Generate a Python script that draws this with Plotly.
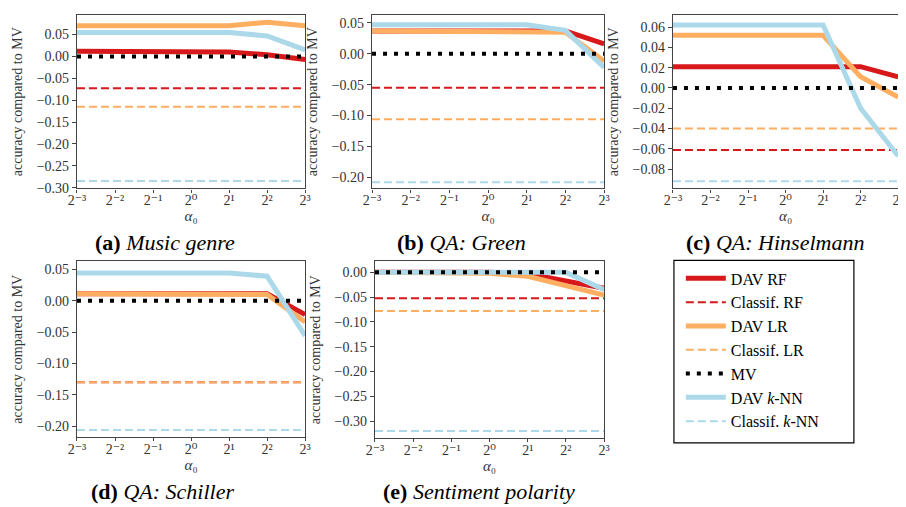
import plotly.graph_objects as go

alpha = [0.125, 0.25, 0.5, 1, 2, 4, 8]
alpha_ticks = ["2⁻³", "2⁻²", "2⁻¹", "2⁰", "2¹", "2²", "2³"]

# (a) Music genre
a_dav_rf = [0.012, 0.012, 0.012, 0.012, 0.010, 0.004, -0.007]
a_dav_lr = [0.070, 0.070, 0.070, 0.070, 0.070, 0.078, 0.070]
a_dav_knn = [0.055, 0.055, 0.055, 0.055, 0.055, 0.047, 0.015]
a_cls = {"rf": -0.073, "lr": -0.115, "knn": -0.285}
# (b) QA: Green
b_dav_rf = [0.037, 0.037, 0.037, 0.037, 0.037, 0.037, 0.016]
b_dav_lr = [0.037, 0.037, 0.037, 0.037, 0.037, 0.035, -0.012]
b_dav_knn = [0.047, 0.047, 0.047, 0.047, 0.047, 0.038, -0.022]
b_cls = {"rf": -0.055, "lr": -0.106, "knn": -0.208}
# (c) QA: Hinselmann
c_dav_rf = [0.021, 0.021, 0.021, 0.021, 0.021, 0.021, 0.011]
c_dav_lr = [0.052, 0.052, 0.052, 0.052, 0.052, 0.011, -0.009]
c_dav_knn = [0.062, 0.062, 0.062, 0.062, 0.062, -0.020, -0.067]
c_cls = {"rf": -0.061, "lr": -0.040, "knn": -0.092}
# (d) QA: Schiller
d_dav_rf = [0.011, 0.011, 0.011, 0.011, 0.011, 0.011, -0.022]
d_dav_lr = [0.011, 0.011, 0.011, 0.011, 0.011, 0.010, -0.034]
d_dav_knn = [0.044, 0.044, 0.044, 0.044, 0.044, 0.039, -0.056]
d_cls = {"rf": -0.130, "lr": -0.130, "knn": -0.206}
# (e) Sentiment polarity
e_dav_rf = [0.0, 0.0, 0.0, 0.0, -0.003, -0.018, -0.032]
e_dav_lr = [0.0, 0.0, 0.0, -0.002, -0.008, -0.028, -0.046]
e_dav_knn = [0.0, 0.0, 0.0, 0.0, 0.0, 0.0, -0.035]
e_cls = {"rf": -0.052, "lr": -0.078, "knn": -0.320}

mv = [0, 0, 0, 0, 0, 0, 0]

captions = ["<b>(a)</b> <i>Music genre</i>", "<b>(b)</b> <i>QA: Green</i>", "<b>(c)</b> <i>QA: Hinselmann</i>",
            "<b>(d)</b> <i>QA: Schiller</i>", "<b>(e)</b> <i>Sentiment polarity</i>"]

RED = "#d7191c"
ORANGE = "#fdae61"
BLUE = "#abd9e9"
FONT = '"Liberation Serif", "DejaVu Serif", serif'
W, H = 906, 507

panels = [
    dict(dav=(a_dav_rf, a_dav_lr, a_dav_knn), cls=a_cls, box=(61, 293, 7, 183), yr=[-0.302, 0.095], dt=0.05, cap=(150, 238)),
    dict(dav=(b_dav_rf, b_dav_lr, b_dav_knn), cls=b_cls, box=(361, 597, 7, 183), yr=[-0.218, 0.063], dt=0.05, cap=(452, 238)),
    dict(dav=(c_dav_rf, c_dav_lr, c_dav_knn), cls=c_cls, box=(667, 896, 7, 183), yr=[-0.099, 0.072], dt=0.02, cap=(771, 238)),
    dict(dav=(d_dav_rf, d_dav_lr, d_dav_knn), cls=d_cls, box=(61, 293, 257, 435), yr=[-0.217, 0.0625], dt=0.05, cap=(148, 490)),
    dict(dav=(e_dav_rf, e_dav_lr, e_dav_knn), cls=e_cls, box=(364, 597, 257, 436), yr=[-0.334, 0.022], dt=0.05, cap=(470, 490)),
]

fig = go.Figure()
layout = {}
annotations = []
for i, p in enumerate(panels):
    k = "" if i == 0 else str(i + 1)
    xa, ya = "x" + k, "y" + k
    show = (i == 0)
    rf, lr, knn = p["dav"]
    cls = p["cls"]
    traces = [
        ("DAV RF", rf, RED, 5, "solid", 1),
        ("Classif. RF", [cls["rf"]] * len(alpha), RED, 2, "8px,4px", 2),
        ("DAV LR", lr, ORANGE, 5, "solid", 3),
        ("Classif. LR", [cls["lr"]] * len(alpha), ORANGE, 2, "8px,4px", 4),
        ("MV", mv, "black", 4, "4px,7px", 5),
        ("DAV <i>k</i>-NN", knn, BLUE, 5, "solid", 6),
        ("Classif. <i>k</i>-NN", [cls["knn"]] * len(alpha), BLUE, 2, "8px,4px", 7),
    ]
    order = [1, 3, 6, 0, 2, 5, 4]
    for j in order:
        name, yv, col, w, dash, rank = traces[j]
        fig.add_trace(go.Scatter(x=alpha, y=yv, xaxis=xa, yaxis=ya, mode="lines", name=name,
                                 line=dict(color=col, width=w, dash=dash), showlegend=show,
                                 legendrank=rank, legendgroup=str(rank), hoverinfo="skip"))
    x0, x1, y0, y1 = p["box"]
    axstyle = dict(showline=True, mirror=True, linecolor="#444", linewidth=1.3, ticks="outside",
                   tickcolor="#444", showgrid=False, zeroline=False,
                   tickfont=dict(family=FONT, size=14, color="#333"))
    layout["xaxis" + k] = dict(domain=[x0 / W, x1 / W], anchor=ya, type="log", ticklen=3,
                               ticklabelstandoff=-4,
                               range=[-0.90309, 0.90309], tickvals=alpha, ticktext=alpha_ticks,
                               title=dict(text="<i>α</i>₀", font=dict(family=FONT, size=15, color="#333"), standoff=0),
                               **axstyle)
    layout["yaxis" + k] = dict(domain=[1 - y1 / H, 1 - y0 / H], anchor=xa, range=p["yr"], dtick=p["dt"],
                               tick0=0, tickformat=".2f", ticklen=4,
                               title=dict(text="accuracy compared to MV", font=dict(family=FONT, size=14, color="#333"), standoff=10),
                               **axstyle)
    cx, cy = p["cap"]
    annotations.append(dict(text=captions[i], x=cx / W, y=1 - cy / H, xref="paper", yref="paper",
                            showarrow=False, xanchor="center", yanchor="middle",
                            font=dict(family=FONT, size=22, color="black")))

fig.update_layout(
    width=W, height=H, margin=dict(l=0, r=0, t=0, b=0),
    paper_bgcolor="white", plot_bgcolor="white",
    annotations=annotations,
    shapes=[dict(type="rect", xref="paper", yref="paper", x0=668 / W, x1=851 / W,
                 y0=1 - 441 / H, y1=1 - 256 / H, line=dict(color="black", width=1.2), layer="below")],
    legend=dict(x=675 / W, y=1 - 257 / H, xanchor="left", yanchor="top",
                borderwidth=0, bgcolor="rgba(0,0,0,0)",
                font=dict(family=FONT, size=16, color="black"), tracegroupgap=0,
                itemwidth=40),
    **layout,
)
fig.write_html("out.html")
